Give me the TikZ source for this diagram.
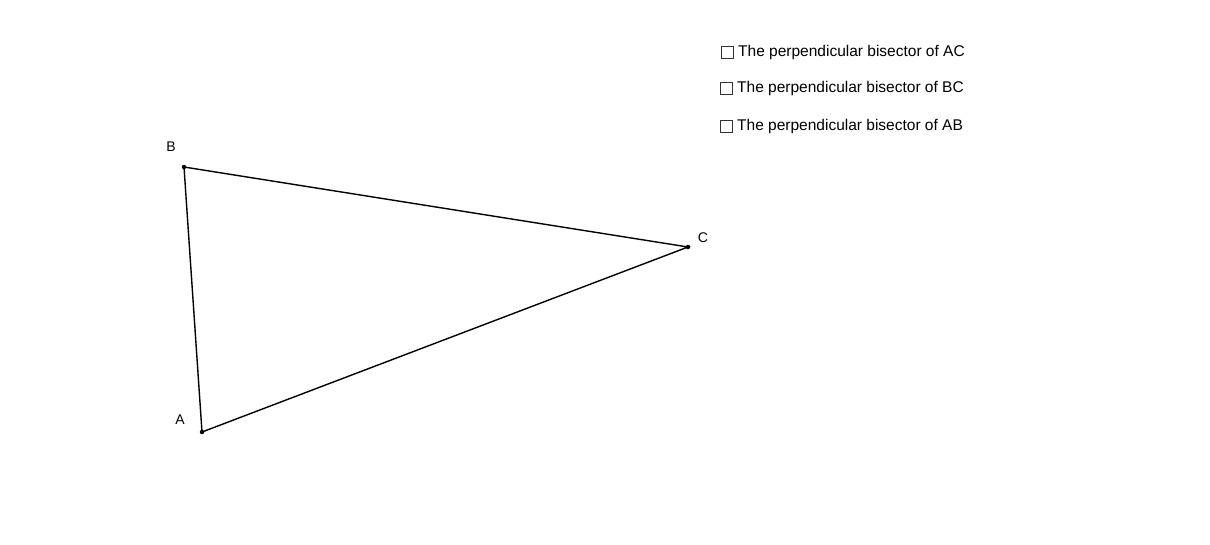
\documentclass[tikz,border=0pt]{standalone}
\usepackage{fontspec}
\setmainfont{Liberation Sans}
\begin{document}
\begin{tikzpicture}[x=1pt,y=-1pt,
  pt/.style={circle,fill=black,inner sep=0pt,minimum size=4.5pt},
  lbl/.style={font=\fontsize{14}{16}\selectfont},
  cb/.style={draw=black!80,line width=0.8pt,minimum size=12pt,inner sep=0pt},
  cbt/.style={anchor=west,inner sep=0pt,font=\fontsize{15.5}{18}\selectfont}]
\useasboundingbox (0,0) rectangle (1210,544);
\node[pt] (B) at (184,167) {};
\node[pt] (C) at (688,247) {};
\node[pt] (A) at (202,432) {};
\draw[line width=1.4pt] (A.center) -- (B.center) -- (C.center) -- cycle;
\node[lbl] (lB) at (171,147) {B};
\node[lbl] (lC) at (703,238) {C};
\node[lbl] (lA) at (180,420) {A};
\node[cb] (c1) at (727,52) {};
\node[cbt] (t1) at (738,52) {The perpendicular bisector of AC};
\node[cb] (c2) at (726,88) {};
\node[cbt] (t2) at (737,88) {The perpendicular bisector of BC};
\node[cb] (c3) at (726,126) {};
\node[cbt] (t3) at (737,126) {The perpendicular bisector of AB};
\end{tikzpicture}
\end{document}
